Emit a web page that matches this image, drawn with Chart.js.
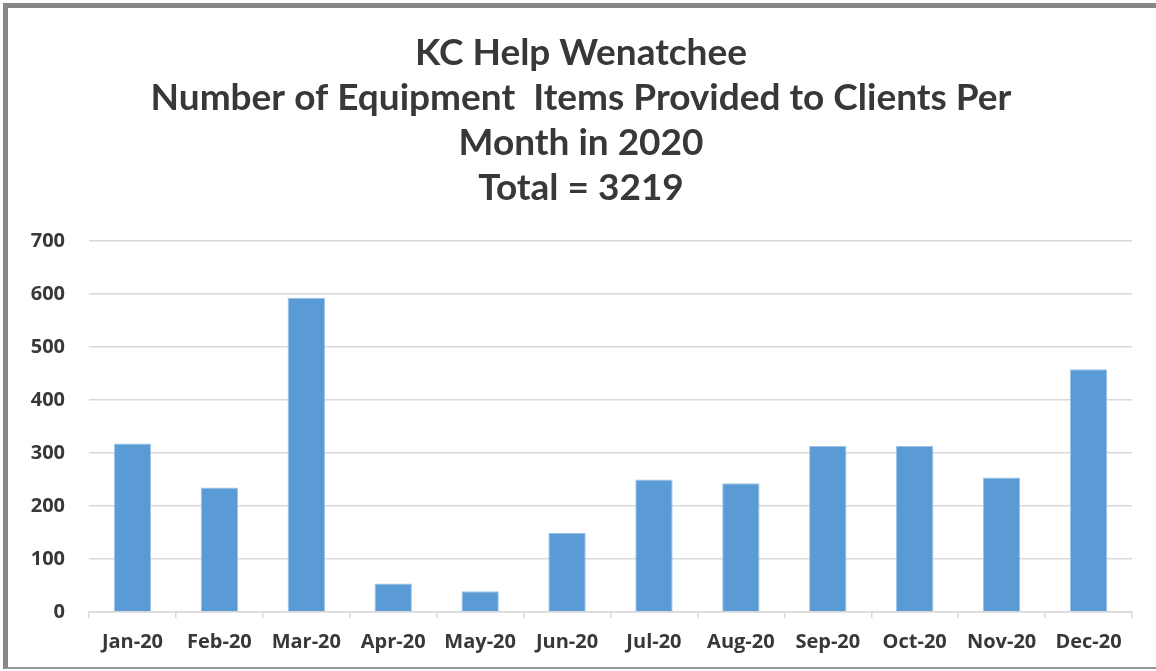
<!DOCTYPE html>
<html>
<head>
<meta charset="utf-8">
<script src="https://cdn.jsdelivr.net/npm/chart.js@4.4.1/dist/chart.umd.min.js"></script>
<style>
  body { margin: 0; background: #fff; }
  #wrap { position: relative; width: 1156px; height: 671px; overflow: hidden; }
  #frame {
    position: absolute; left: 3px; top: 3px; width: 1160px; height: 659px;
    border-left: 5px solid #878787; border-top: 5px solid #878787; border-bottom: 2px solid #999;
  }
  canvas { position: absolute; left: 0; top: 0; }
</style>
</head>
<body>
<div id="wrap">
  <div id="frame"></div>
  <canvas id="chart" width="1156" height="671"></canvas>
</div>
<script>
const months = ["Jan-20", "Feb-20", "Mar-20", "Apr-20", "May-20", "Jun-20",
                "Jul-20", "Aug-20", "Sep-20", "Oct-20", "Nov-20", "Dec-20"];
const items = [318, 235, 593, 54, 39, 149, 250, 243, 313, 313, 254, 458];
const titleLines = [
  "KC Help Wenatchee",
  "Number of Equipment  Items Provided to Clients Per",
  "Month in 2020",
  "Total = 3219"
];
const yTicks = [0, 100, 200, 300, 400, 500, 600, 700];

const textColor = "#383838";
const gridColor = "#d9d9d9";
const tickFont = { family: "Open Sans", size: 20, weight: "bold" };

new Chart(document.getElementById("chart").getContext("2d"), {
  type: "bar",
  data: {
    labels: months,
    datasets: [{
      label: "Items",
      data: items,
      backgroundColor: "#5b9bd5",
      borderColor: "#9cc3e7",
      borderWidth: 1,
      barPercentage: 0.43,
      categoryPercentage: 1
    }]
  },
  options: {
    responsive: false,
    animation: false,
    layout: { padding: { left: 30, right: 24, top: 0, bottom: 0 } },
    plugins: {
      legend: { display: false },
      tooltip: { enabled: false },
      title: {
        display: true,
        text: titleLines,
        color: textColor,
        font: { family: "Lato", size: 37, weight: "bold", lineHeight: "45px" },
        padding: { top: 31, bottom: 30 }
      }
    },
    scales: {
      x: {
        grid: { drawOnChartArea: false, color: gridColor, tickLength: 6, lineWidth: 1.5 },
        border: { color: gridColor, width: 1.5 },
        ticks: { color: textColor, font: tickFont, padding: 12, maxRotation: 0 },
        afterFit: (s) => { s.height = 59; }
      },
      y: {
        min: 0,
        max: 700,
        afterBuildTicks: (s) => { s.ticks = yTicks.map(v => ({ value: v })); },
        grid: { color: gridColor, lineWidth: 1.5, drawTicks: false },
        border: { display: false },
        ticks: { color: textColor, font: tickFont, padding: 24 },
        afterFit: (s) => { s.width = 59; }
      }
    }
  }
});
</script>
</body>
</html>
